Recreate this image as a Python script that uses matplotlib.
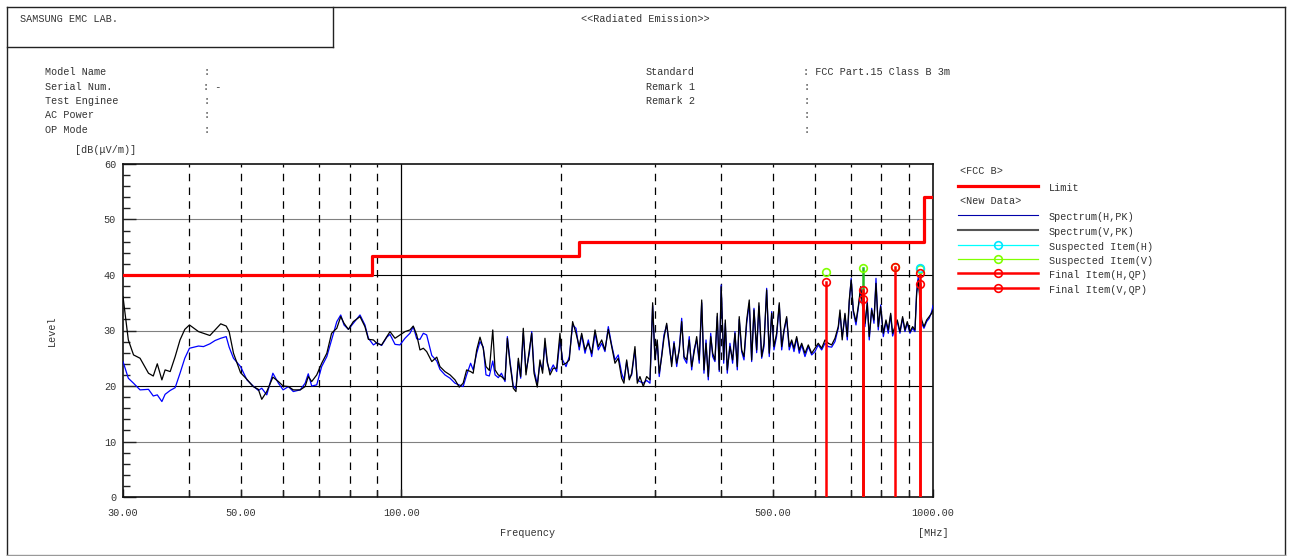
import matplotlib
matplotlib.use('Agg')
import matplotlib.pyplot as plt
from matplotlib.lines import Line2D
import numpy as np

# ---------------- data ----------------
# Spectrum, 30-100 MHz
freq_lo = [30.0, 30.7, 31.4, 32.3, 33.5, 34.2, 34.8, 35.5, 36.0, 36.8, 37.6, 38.4, 39.2, 40.0,
           41.6, 42.5, 43.7, 44.7, 45.8, 46.9, 47.5, 48.4, 49.9, 51.3, 52.7, 53.9, 54.7, 55.9,
           57.4, 58.8, 60.0, 61.4, 62.7, 64.6, 66.0, 66.9, 67.9, 69.4, 70.9, 72.5, 74.0, 75.7,
           77.0, 78.1, 79.6, 81.3, 83.7, 85.5, 86.8, 88.7, 90.0, 91.9, 94.0, 95.3, 97.4, 99.5]
v_lo = [36.1, 28.3, 25.6, 25.0, 22.3, 21.8, 24.0, 21.1, 22.9, 22.6, 25.3, 28.3, 30.2, 31.0,
        29.8, 29.5, 29.1, 30.1, 31.2, 30.8, 29.8, 25.9, 22.4, 21.2, 19.9, 19.4, 17.6, 19.0,
        21.6, 20.8, 20.0, 19.9, 19.3, 19.3, 19.9, 21.7, 20.8, 22.0, 24.1, 25.9, 29.5, 30.4,
        32.5, 31.3, 30.2, 31.6, 32.5, 30.7, 28.4, 28.3, 27.7, 27.4, 28.9, 29.8, 28.6, 29.2]
h_lo = [24.4, 21.4, 20.5, 19.3, 19.4, 18.2, 18.4, 17.2, 18.5, 19.2, 19.7, 22.3, 25.0, 26.8,
        27.2, 27.1, 27.6, 28.2, 28.6, 28.9, 27.0, 25.0, 23.5, 21.1, 20.0, 19.2, 19.6, 18.4,
        22.3, 20.5, 19.3, 19.9, 19.0, 19.3, 20.5, 22.2, 20.0, 20.2, 23.5, 25.3, 28.3, 31.6,
        32.8, 31.0, 30.2, 31.3, 32.8, 31.0, 28.6, 27.4, 27.8, 27.3, 28.8, 29.3, 27.5, 27.4]

# Spectrum, 100-300 MHz
freq_mid = [101.7, 103.9, 105.4, 107.0, 108.5, 110.1, 111.7, 114.2, 116.7, 118.3, 120.9, 123.6,
            126.3, 128.6, 130.8, 132.8, 135.1, 136.6, 138.7, 140.7, 142.7, 144.4, 146.5, 148.7,
            150.2, 152.3, 154.4, 156.8, 158.4, 160.2, 162.5, 164.4, 166.1, 167.8, 169.7, 171.7,
            174.2, 176.0, 177.8, 180.3, 182.4, 184.5, 186.4, 188.3, 190.5, 193.2, 196.1, 198.9,
            201.2, 204.2, 207.1, 210.1, 213.2, 216.2, 218.5, 221.7, 224.9, 228.2, 231.5, 234.8,
            238.3, 241.7, 245.2, 248.8, 252.4, 256.0, 259.8, 262.4, 265.5, 268.5, 271.3, 275.2,
            278.0, 281.2, 285.3, 289.5, 293.7, 297.1]
v_mid = [29.8, 30.1, 30.8, 29.2, 26.5, 26.8, 26.2, 24.4, 25.2, 23.5, 22.6, 22.0,
         21.1, 19.8, 20.5, 22.9, 22.6, 22.3, 26.5, 28.8, 26.8, 23.5, 22.8, 30.1,
         22.9, 22.0, 21.7, 21.1, 28.6, 24.1, 19.6, 19.0, 25.0, 21.7, 30.4, 22.0,
         26.5, 29.5, 22.3, 19.8, 24.7, 22.3, 28.6, 24.4, 22.0, 23.2, 23.2, 29.5,
         23.8, 24.1, 24.7, 31.6, 29.5, 27.1, 29.5, 26.5, 27.7, 25.9, 30.1, 27.1,
         28.3, 26.5, 30.2, 27.1, 24.1, 25.0, 21.4, 20.5, 24.7, 21.1, 22.3, 27.1,
         20.5, 21.7, 19.9, 21.7, 21.1, 35.0]
h_mid = [28.6, 29.5, 30.7, 28.5, 28.4, 29.5, 29.2, 25.5, 24.5, 23.0, 22.0, 21.4,
         20.5, 20.2, 19.9, 22.0, 24.1, 22.9, 25.9, 28.0, 27.0, 22.0, 21.8, 24.5,
         22.0, 21.5, 22.3, 20.8, 28.9, 24.5, 20.0, 19.5, 24.4, 21.4, 29.5, 22.6,
         25.9, 29.8, 22.9, 20.3, 24.1, 22.9, 27.7, 24.1, 22.6, 23.8, 22.6, 28.3,
         24.7, 23.5, 25.3, 31.0, 30.4, 26.5, 29.2, 25.9, 28.3, 25.3, 29.5, 26.5,
         27.7, 26.2, 30.7, 27.4, 24.7, 25.6, 22.3, 21.1, 24.4, 21.4, 22.0, 26.5,
         21.1, 20.8, 20.5, 21.0, 20.5, 34.5]

# Spectrum, 300-1000 MHz
freq_hi = [300.1, 303.1, 305.7, 309.0, 312.0, 315.7, 319.2, 322.6, 325.9, 329.7, 333.4, 336.9,
           340.3, 344.3, 348.1, 351.8, 355.3, 359.5, 363.5, 367.4, 371.0, 374.3, 378.0, 382.0,
           385.3, 389.1, 393.0, 396.4, 399.7, 404.1, 406.9, 410.4, 415.2, 420.0, 424.3, 428.6,
           432.2, 436.8, 441.2, 446.4, 451.4, 456.1, 460.7, 466.1, 470.7, 476.3, 481.1, 486.7,
           492.2, 497.4, 502.3, 508.2, 514.0, 519.4, 524.6, 530.7, 536.7, 542.4, 547.8, 554.2,
           560.4, 566.4, 574.5, 582.8, 591.4, 599.9, 608.5, 617.6, 626.5, 635.5, 644.9, 654.2,
           663.6, 668.5, 675.0, 683.1, 690.0, 695.9, 701.8, 708.1, 716.5, 723.6, 731.2, 737.3,
           744.9, 752.4, 758.8, 766.8, 774.5, 781.3, 789.0, 797.3, 806.5, 815.8, 823.9, 832.6,
           839.6, 848.2, 856.7, 866.7, 876.7, 885.7, 894.6, 905.0, 915.5, 924.9, 931.7, 938.2,
           945.1, 952.1, 961.6, 972.9, 983.8, 994.3, 1000.0]
v_hi = [24.7, 28.3, 22.3, 25.3, 28.6, 31.3, 27.7, 23.5, 27.7, 24.1, 26.5, 31.6,
        25.3, 24.7, 28.3, 23.5, 25.9, 28.9, 24.7, 35.5, 22.9, 27.7, 21.7, 28.9,
        25.9, 24.7, 33.1, 22.9, 37.9, 24.7, 31.9, 22.9, 27.1, 24.7, 29.5, 23.5,
        32.5, 26.5, 25.3, 31.9, 35.5, 24.7, 33.7, 26.5, 35.0, 25.3, 27.7, 37.3,
        25.9, 33.1, 27.1, 29.5, 35.0, 27.1, 30.1, 32.5, 27.1, 28.3, 26.8, 28.9,
        26.5, 27.7, 25.9, 27.4, 25.9, 26.8, 27.7, 26.8, 28.3, 27.7, 27.4, 28.6,
        30.7, 33.7, 28.3, 33.1, 28.9, 35.5, 39.1, 33.7, 31.6, 34.3, 37.9, 34.3,
        31.3, 34.9, 28.9, 33.7, 31.9, 38.5, 30.7, 34.3, 29.5, 31.9, 30.1, 33.1,
        29.5, 30.7, 31.9, 29.8, 32.5, 30.1, 31.6, 29.8, 30.7, 30.1, 36.7, 39.1,
        35.5, 31.9, 30.7, 31.9, 32.5, 33.1, 33.7]
h_hi = [25.0, 28.0, 21.7, 25.6, 29.2, 31.0, 27.1, 24.1, 28.0, 23.5, 26.8, 32.2,
        25.0, 24.1, 28.9, 22.9, 26.5, 28.3, 24.1, 35.0, 22.3, 28.3, 21.1, 29.5,
        25.3, 24.4, 32.5, 22.6, 38.2, 24.1, 31.3, 22.3, 27.7, 24.1, 29.8, 22.9,
        32.0, 26.2, 24.7, 31.3, 34.9, 24.4, 34.0, 26.0, 34.4, 25.0, 27.1, 37.6,
        25.3, 33.4, 26.5, 29.0, 34.6, 26.5, 29.8, 32.2, 26.5, 28.0, 26.2, 28.6,
        25.9, 27.4, 25.3, 27.1, 25.6, 26.2, 27.4, 26.5, 27.7, 27.1, 27.0, 28.0,
        30.4, 33.1, 28.9, 32.8, 28.3, 35.0, 39.4, 33.4, 31.0, 34.0, 37.3, 35.0,
        30.7, 35.2, 28.3, 34.0, 31.3, 39.4, 30.1, 34.6, 28.9, 31.6, 29.5, 32.8,
        29.0, 30.4, 31.6, 29.5, 32.2, 29.8, 31.3, 29.5, 30.4, 29.8, 37.0, 39.7,
        36.0, 31.3, 30.4, 31.6, 32.2, 33.4, 34.5]

# FCC Class B 3 m limit (band edges and levels)
limit_edges = [30, 88, 216, 960, 1000]
limit_levels = [40.0, 43.5, 46.0, 54.0]

# Suspected / final items
sus_h_freq = [945]
sus_h_level = [41.3]
sus_v_freq = [629, 737, 848, 945]
sus_v_level = [40.6, 41.2, 41.4, 41.0]
sus_v_stem = [False, True, False, False]
fin_h_freq = [629, 737, 945]
fin_h_level = [38.7, 35.6, 38.3]
fin_v_freq = [737, 848, 945]
fin_v_level = [37.3, 41.5, 40.3]

xtick_vals = [30, 50, 100, 500, 1000]
xtick_labels = ['30.00', '50.00', '100.00', '500.00', '1000.00']
xgrid_dashed = [40, 50, 60, 70, 80, 90, 200, 300, 400, 500, 600, 700, 800, 900]
ytick_vals = [0, 10, 20, 30, 40, 50, 60]

info_left = [('Model Name', ':'), ('Serial Num.', ': -'), ('Test Enginee', ':'),
             ('AC Power', ':'), ('OP Mode', ':')]
info_right = [('Standard', ': FCC Part.15 Class B 3m'), ('Remark 1', ':'), ('Remark 2', ':'),
              ('', ':'), ('', ':')]

# ---------------- figure ----------------
W, H = 1290, 556
fig = plt.figure(figsize=(W / 100, H / 100), dpi=100)
FONT = 'Liberation Mono'
FS = 7.3
TC = '#333333'


def ftext(x, y, s, **kw):
    kw.setdefault('va', 'center')
    fig.text(x / W, 1 - y / H, s, fontsize=FS, family=FONT, color=TC, **kw)


def fline(xs, ys, **kw):
    fig.add_artist(Line2D([x / W for x in xs], [1 - y / H for y in ys],
                          transform=fig.transFigure, **kw))


# page frame
fline([7, 1285], [7, 7], color='#222222', lw=1.0)
fline([7, 7], [7, 555], color='#222222', lw=1.0)
fline([1285, 1285], [7, 555], color='#222222', lw=1.0)
fline([7, 1285], [555, 555], color='#999999', lw=1.0)
fline([333, 333], [7, 47], color='#222222', lw=1.0)
fline([7, 333], [47, 47], color='#222222', lw=1.0)

ftext(20, 19, 'SAMSUNG EMC LAB.')
ftext(581, 19, '<<Radiated Emission>>')

for i, (lab, val) in enumerate(info_left):
    y = 72 + i * 14.5
    ftext(45, y, lab)
    ftext(203, y, val)
for i, (lab, val) in enumerate(info_right):
    y = 72 + i * 14.5
    if lab:
        ftext(646, y, lab)
    ftext(803, y, val)

ftext(75, 150, '[dB(\u03bcV/m)]')
ftext(52, 331, 'Level', rotation=90, ha='center')
ftext(528, 533, 'Frequency', ha='center')
ftext(933, 533, '[MHz]', ha='center')

# ---------------- axes ----------------
ax = fig.add_axes([123 / W, 1 - 497 / H, 810 / W, 333 / H])
ax.set_xscale('log')
ax.set_xlim(30, 1000)
ax.set_ylim(0, 60)

for g in [10, 30, 50]:
    ax.axhline(g, color='#808080', lw=0.8, zorder=1)
for g in [20, 40]:
    ax.axhline(g, color='#000000', lw=0.8, zorder=1)
for g in xgrid_dashed:
    ax.axvline(g, color='#000000', lw=0.9, ls=(0, (6, 5)), zorder=1)
ax.axvline(100, color='#000000', lw=0.9, zorder=1)

ax.set_xticks(xtick_vals)
ax.set_xticklabels(xtick_labels)
ax.set_xticks([v for v in xgrid_dashed if v not in xtick_vals], minor=True)
ax.xaxis.set_minor_formatter(plt.NullFormatter())
ax.set_yticks(ytick_vals)
ax.set_yticks(np.arange(0, 61, 2), minor=True)
ax.tick_params(axis='both', which='major', direction='in', length=9, width=1.0,
               labelsize=FS, labelcolor=TC, colors='#222222')
ax.tick_params(axis='both', which='minor', direction='in', length=5, width=1.0, colors='#222222')
ax.tick_params(axis='x', which='major', length=6, pad=8)
ax.tick_params(axis='y', which='major', pad=5)
for lab in ax.get_xticklabels() + ax.get_yticklabels():
    lab.set_family(FONT)
for sp in ax.spines.values():
    sp.set_color('#111111')
    sp.set_linewidth(1.2)

freq_all = np.concatenate([freq_lo, freq_mid, freq_hi])
h_all = np.concatenate([h_lo, h_mid, h_hi])
v_all = np.concatenate([v_lo, v_mid, v_hi])

ax.plot(freq_all, h_all, color='#0000ff', lw=0.9, zorder=3)
ax.plot(freq_all, v_all, color='#000000', lw=0.9, zorder=4)

lim_y = limit_levels + [limit_levels[-1]]
ax.plot(limit_edges, lim_y, drawstyle='steps-post', color='#ff0000', lw=2.3, zorder=5)

# suspected stems (green only where visible above the final item)
for f, l, s in zip(sus_v_freq, sus_v_level, sus_v_stem):
    if s:
        ax.plot([f, f], [0, l], color='#22bb22', lw=1.8, zorder=6)
for f, l in zip(fin_h_freq + fin_v_freq, fin_h_level + fin_v_level):
    ax.plot([f, f], [0, l], color='#ff0000', lw=1.8, zorder=7)

mk = dict(ls='none', marker='o', markersize=5.5, markerfacecolor='none', mew=1.2, zorder=8)
ax.plot(sus_v_freq, sus_v_level, color='#80ff00', **mk)
ax.plot(sus_h_freq, sus_h_level, color='#00e5ff', **mk)
ax.plot(fin_h_freq, fin_h_level, color='#ff0000', **mk)
ax.plot(fin_v_freq, fin_v_level, color='#ff0000', **mk)

# ---------------- legend (drawn manually) ----------------
ftext(960, 171, '<FCC B>')
fline([958, 1038], [186, 186], color='#ff0000', lw=2.3)
ftext(1049, 188, 'Limit')
ftext(960, 201, '<New Data>')
leg = [
    (215, '#0000aa', 0.8, None, 'Spectrum(H,PK)'),
    (230, '#555555', 1.5, None, 'Spectrum(V,PK)'),
    (244.5, '#00ffff', 0.9, '#00e5ff', 'Suspected Item(H)'),
    (259, '#80ff00', 0.9, '#80ff00', 'Suspected Item(V)'),
    (273.5, '#ff0000', 1.8, '#ff0000', 'Final Item(H,QP)'),
    (288, '#ff0000', 1.8, '#ff0000', 'Final Item(V,QP)'),
]
for y, c, lw, mc, txt in leg:
    fline([958, 1038], [y, y], color=c, lw=lw)
    if mc:
        fig.add_artist(Line2D([998 / W], [1 - y / H], transform=fig.transFigure, ls='none',
                              marker='o', markersize=5.5, markerfacecolor='none',
                              markeredgecolor=mc, mew=1.2))
    ftext(1049, y + 2, txt)

fig.savefig('out.png', dpi=100)
